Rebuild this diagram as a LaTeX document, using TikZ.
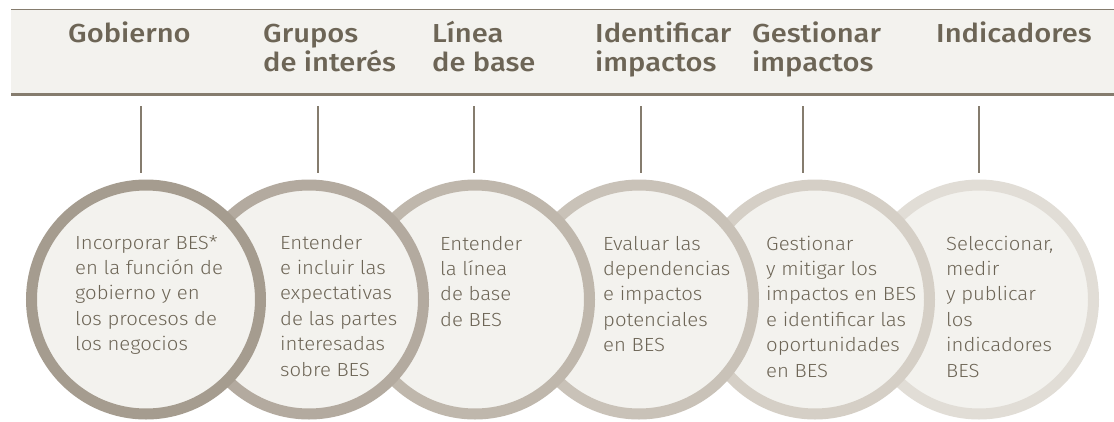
\documentclass[tikz,border=0pt]{standalone}
\usepackage{fontspec}
\setmainfont{Fira Sans}
\newfontfamily\headfont{Fira Sans Medium}[FakeStretch=1.12]
\newfontfamily\bodyfont{Fira Sans Light}[FakeStretch=1.07]
\definecolor{ringA}{HTML}{A59C8F}
\definecolor{ringB}{HTML}{B3AA9F}
\definecolor{ringC}{HTML}{BFB7AC}
\definecolor{ringD}{HTML}{C9C2B8}
\definecolor{ringE}{HTML}{D5CFC6}
\definecolor{ringF}{HTML}{E1DDD6}
\definecolor{paper}{HTML}{F3F2EE}
\definecolor{ink}{HTML}{6D6556}
\definecolor{rule}{HTML}{857C6E}
\newcommand\headblock[1]{\vtop{\headfont\fontsize{26}{28.3}\selectfont\baselineskip=28.3pt\lineskiplimit=-100pt #1}}
\newcommand\bodyblock[1]{\vtop{\bodyfont\fontsize{19}{25.4}\selectfont\baselineskip=25.4pt\lineskiplimit=-100pt #1}}
\tikzset{
  ringnode/.style={circle, fill=paper, line width=11pt, minimum size=229pt, inner sep=0pt},
  headlabel/.style={anchor=base west, inner sep=0pt, text=ink},
  bodylabel/.style={anchor=base west, inner sep=0pt, text=ink},
  tick/.style={draw=rule, line width=1.5pt}
}
\begin{document}
\begin{tikzpicture}[x=1pt,y=-1pt]
\useasboundingbox (0,0) rectangle (1114,421);
% header band
\fill[paper] (11,9.5) rectangle (1114,94.5);
\draw[rule, line width=1.6pt] (11,9.5) -- (1114,9.5);
\draw[rule, line width=2.6pt] (11,94.5) -- (1114,94.5);
% header labels
\node[headlabel] (h1) at (68,42.8) {\headblock{\hbox{Gobierno}}};
\node[headlabel] (h2) at (263,42.8) {\headblock{\hbox{Grupos}\hbox{de interés}}};
\node[headlabel] (h3) at (432,42.8) {\headblock{\hbox{Línea}\hbox{de base}}};
\node[headlabel] (h4) at (595,42.8) {\headblock{\hbox{Identificar}\hbox{impactos}}};
\node[headlabel] (h5) at (752,42.8) {\headblock{\hbox{Gestionar}\hbox{impactos}}};
\node[headlabel] (h6) at (936,42.8) {\headblock{\hbox{Indicadores}}};
% circles (last drawn on top)
\node[ringnode, draw=ringF] (c6) at (979,299.5) {};
\node[ringnode, draw=ringE] (c5) at (815,299.5) {};
\node[ringnode, draw=ringD] (c4) at (639,299.5) {};
\node[ringnode, draw=ringC] (c3) at (475,299.5) {};
\node[ringnode, draw=ringB] (c2) at (309,299.5) {};
\node[ringnode, draw=ringA] (c1) at (146,299.5) {};
% ticks
\foreach \i/\x in {1/141,2/318,3/474,4/641,5/803,6/979}{
  \coordinate (ta\i) at (\x,106);
  \coordinate (tb\i) at (\x,173);
  \draw[tick] (ta\i) -- (tb\i);
}
% body texts
\node[bodylabel] (b1) at (75,249) {\bodyblock{\hbox{Incorporar BES*}\hbox{en la función de}\hbox{gobierno y en}\hbox{los procesos de}\hbox{los negocios}}};
\node[bodylabel] (b2) at (280,249) {\bodyblock{\hbox{Entender}\hbox{e incluir las}\hbox{expectativas}\hbox{de las partes}\hbox{interesadas}\hbox{sobre BES}}};
\node[bodylabel] (b3) at (440,250) {\bodyblock{\hbox{Entender}\hbox{la línea}\hbox{de base}\hbox{de BES}}};
\node[bodylabel] (b4) at (603,250) {\bodyblock{\hbox{Evaluar las}\hbox{dependencias}\hbox{e impactos}\hbox{potenciales}\hbox{en BES}}};
\node[bodylabel] (b5) at (766,250) {\bodyblock{\hbox{Gestionar}\hbox{y mitigar los}\hbox{impactos en BES}\hbox{e identificar las}\hbox{oportunidades}\hbox{en BES}}};
\node[bodylabel] (b6) at (946,250) {\bodyblock{\hbox{Seleccionar,}\hbox{medir}\hbox{y publicar}\hbox{los}\hbox{indicadores}\hbox{BES}}};
\end{tikzpicture}
\end{document}
